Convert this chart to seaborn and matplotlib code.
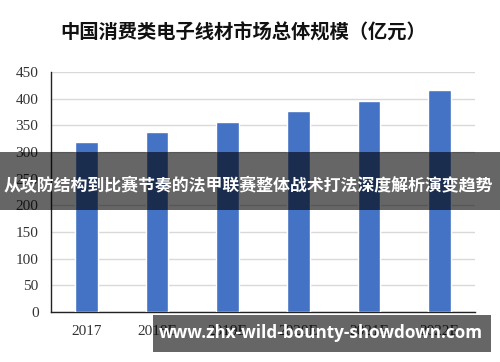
import matplotlib
matplotlib.use("Agg")
import matplotlib.pyplot as plt
from matplotlib.patches import Rectangle
import seaborn as sns
import pandas as pd

years = ["2017", "2018E", "2019E", "2020E", "2021E", "2022E"]
values = [319, 337, 357, 377, 396, 416]
yticks = [0, 50, 100, 150, 200, 250, 300, 350, 400, 450]
title = "中国消费类电子线材市场总体规模（亿元）"
banner = "从攻防结构到比赛节奏的法甲联赛整体战术打法深度解析演变趋势"
watermark = "www.zhx-wild-bounty-showdown.com"

sns.set_theme(style="white")
plt.rcParams['font.family'] = ['Noto Sans CJK SC', 'DejaVu Sans']

df = pd.DataFrame({"year": years, "value": values})

fig = plt.figure(figsize=(5.0, 3.62), dpi=100)
ax = fig.add_axes([0.102, 0.138, 0.848, 0.663])
sns.barplot(data=df, x="year", y="value", color="#4472C4", saturation=1,
            width=0.325, ax=ax, zorder=3)
ax.set_ylim(0, 450)
ax.set_xlim(-0.5, len(years) - 0.5)
ax.set_yticks(yticks)
ax.yaxis.grid(True, color="#d9d9d9", linewidth=1.0, zorder=0)
ax.set_axisbelow(True)
ax.set_xlabel("")
ax.set_ylabel("")
for s in ["top", "right"]:
    ax.spines[s].set_visible(False)
for s in ["left", "bottom"]:
    ax.spines[s].set_color("#222222")
    ax.spines[s].set_linewidth(1.0)
ax.tick_params(axis="both", length=0, pad=9, labelsize=11, colors="#333333")
for lab in ax.get_xticklabels() + ax.get_yticklabels():
    lab.set_family("Liberation Serif")

fig.text(0.486, 0.909, title, ha="center", va="center", fontsize=13.9,
         fontweight="bold", color="#111111")

# banner overlay
fig.add_artist(Rectangle((0, 1 - 210 / 362), 1.0, 58 / 362, transform=fig.transFigure,
                         facecolor="black", alpha=0.6, edgecolor="none", zorder=10))
fig.text(0.497, 1 - 186 / 362, banner, ha="center", va="center", fontsize=12.2,
         fontweight="bold", color="white", zorder=11)

# watermark overlay
fig.add_artist(Rectangle((153 / 500, 1 - 352 / 362), 338 / 500, 37 / 362,
                         transform=fig.transFigure, facecolor="black", alpha=0.6,
                         edgecolor="none", zorder=10))
fig.text(321 / 500, 1 - 333 / 362, watermark, ha="center", va="center", fontsize=12.3,
         fontweight="bold", color="white", zorder=11, family=["Open Sans", "DejaVu Sans"])

fig.savefig("out.png", dpi=100)
